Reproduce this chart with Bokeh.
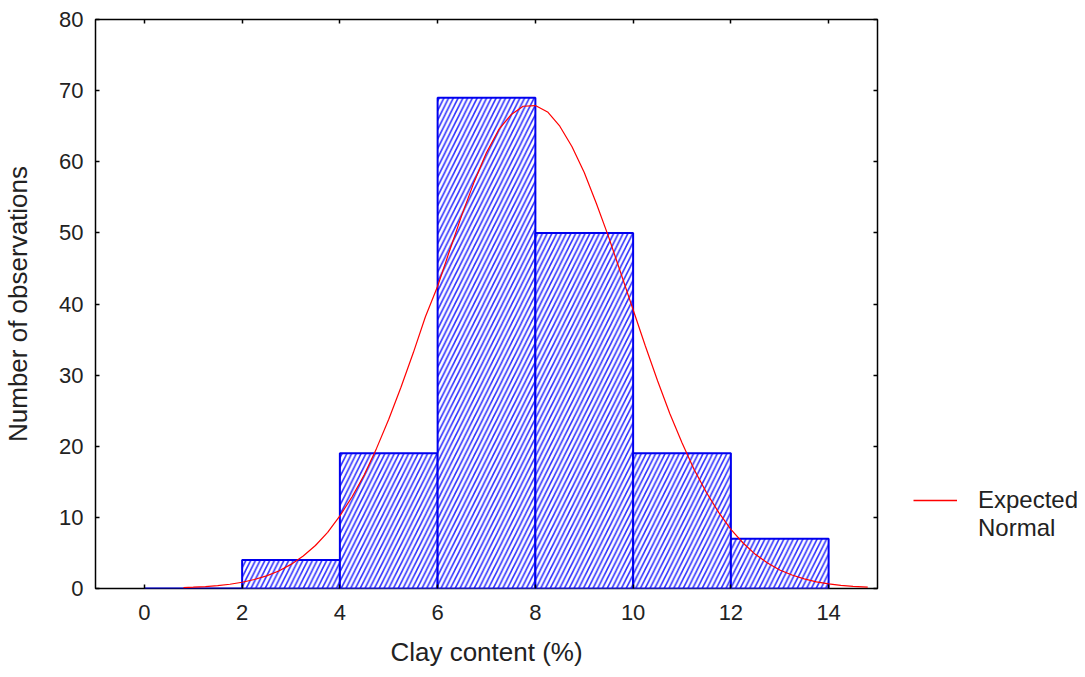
from bokeh.plotting import figure
from bokeh.layouts import row
from bokeh.models import (Legend, LegendItem, LinearAxis, FixedTicker, Range1d,
                          ColumnDataSource, CustomJSTickFormatter)
from bokeh.embed import file_html
from bokeh.resources import INLINE

# Data
bin_left = [0, 2, 4, 6, 8, 10, 12]
bin_right = [2, 4, 6, 8, 10, 12, 14]
counts = [0, 4, 19, 69, 50, 19, 7]

curve_x = [0.8, 1.0, 1.25, 1.5, 1.75, 2.0, 2.25, 2.5, 2.75, 3.0, 3.25, 3.5, 3.75, 4.0, 4.25,
           4.5, 4.75, 5.0, 5.25, 5.5, 5.75, 6.0, 6.25, 6.5, 6.75, 7.0, 7.25, 7.5, 7.75, 8.0,
           8.25, 8.5, 8.75, 9.0, 9.25, 9.5, 9.75, 10.0, 10.25, 10.5, 10.75, 11.0, 11.25, 11.5,
           11.75, 12.0, 12.25, 12.5, 12.75, 13.0, 13.25, 13.5, 13.75, 14.0, 14.25, 14.5, 14.8]
curve_y = [0.12, 0.18, 0.27, 0.41, 0.6, 0.88, 1.26, 1.78, 2.47, 3.39, 4.56, 6.05, 7.9, 10.2, 12.9,
           16.0, 19.7, 23.8, 28.3, 33.1, 38.2, 42.5, 47.6, 52.6, 57.2, 61.3, 64.5, 66.6, 67.8, 67.9,
           67.0, 65.0, 62.1, 58.5, 54.1, 49.4, 44.3, 39.2, 34.1, 29.2, 24.6, 20.5, 16.7, 13.5,
           10.7, 8.3, 6.4, 4.8, 3.6, 2.6, 1.9, 1.35, 0.94, 0.65, 0.44, 0.29, 0.18]

x_ticks = [0, 2, 4, 6, 8, 10, 12, 14]
y_ticks = [0, 10, 20, 30, 40, 50, 60, 70, 80]
legend_labels = ["Expected", "Normal"]

FONT = "Liberation Sans"
TXT = "#222222"
CURVE_COLOR = "red"

p = figure(width=900, height=669, output_backend="svg", toolbar_location=None,
           x_range=Range1d(-1, 15), y_range=Range1d(0, 80),
           min_border_left=95, min_border_right=23, min_border_top=19, min_border_bottom=76)
p.background_fill_color = "white"
p.border_fill_color = "white"
p.outline_line_color = "black"
p.outline_line_width = 1.5
p.grid.visible = False

src = ColumnDataSource(dict(left=bin_left, right=bin_right, top=counts, bottom=[0] * len(counts)))
p.quad(left="left", right="right", top="top", bottom="bottom", source=src,
       fill_color="white", line_color="#0000ee", line_width=2,
       hatch_pattern="/", hatch_color="#3030ff", hatch_scale=9.5, hatch_weight=1.6)

p.line(curve_x, curve_y, line_color=CURVE_COLOR, line_width=1.2)

for ax in (p.xaxis[0], p.yaxis[0]):
    ax.axis_line_color = None
    ax.major_tick_in = 4
    ax.major_tick_out = 0
    ax.major_tick_line_width = 1.5
    ax.minor_tick_line_color = None
    ax.major_label_text_font = FONT
    ax.major_label_text_font_size = "22px"
    ax.major_label_text_color = TXT
    ax.axis_label_text_font = FONT
    ax.axis_label_text_font_size = "26px"
    ax.axis_label_text_font_style = "normal"
    ax.axis_label_text_color = TXT

p.xaxis[0].ticker = FixedTicker(ticks=x_ticks)
p.yaxis[0].ticker = FixedTicker(ticks=y_ticks)
p.xaxis[0].axis_label = "Clay content (%)"
p.yaxis[0].axis_label = "Number of observations"
p.xaxis[0].major_label_standoff = 16
p.xaxis[0].axis_label_standoff = 14
p.yaxis[0].major_label_standoff = 12
p.yaxis[0].axis_label_standoff = 23

blank = CustomJSTickFormatter(code="return '';")
top_ax = LinearAxis(ticker=FixedTicker(ticks=x_ticks), formatter=blank,
                    axis_line_color=None, major_tick_in=4, major_tick_out=0,
                    major_tick_line_width=1.5, minor_tick_line_color=None, major_label_standoff=0)
right_ax = LinearAxis(ticker=FixedTicker(ticks=y_ticks), formatter=blank,
                      axis_line_color=None, major_tick_in=4, major_tick_out=0,
                      major_tick_line_width=1.5, minor_tick_line_color=None, major_label_standoff=0)
p.add_layout(top_ax, "above")
p.add_layout(right_ax, "right")

# Legend panel to the right of the plot (no axes, frame fills the panel)
q = figure(width=177, height=669, output_backend="svg", toolbar_location=None,
           x_range=Range1d(0, 1), y_range=Range1d(0, 1),
           x_axis_location=None, y_axis_location=None,
           min_border_left=0, min_border_right=0, min_border_top=0, min_border_bottom=0)
q.grid.visible = False
q.outline_line_color = None
q.background_fill_color = "white"
q.border_fill_color = "white"
# legend-only renderers, kept outside the visible range of this panel
leg_line = q.line([5, 6], [5, 5], line_color=CURVE_COLOR, line_width=1.5)
leg_blank = q.line([5, 6], [5, 5], line_alpha=0)

legend = Legend(items=[LegendItem(label=legend_labels[0], renderers=[leg_line], index=0),
                       LegendItem(label=legend_labels[1], renderers=[leg_blank], index=0)],
                location=(13, 46), border_line_color=None, background_fill_alpha=0,
                label_text_font=FONT, label_text_font_size="24px", label_text_color=TXT,
                label_height=27, glyph_height=20, label_text_line_height=1.0,
                glyph_width=44, label_standoff=21, padding=0, margin=0, spacing=0)
q.add_layout(legend, "center")

layout = row(p, q)
open("out.html", "w").write(file_html(layout, INLINE))
